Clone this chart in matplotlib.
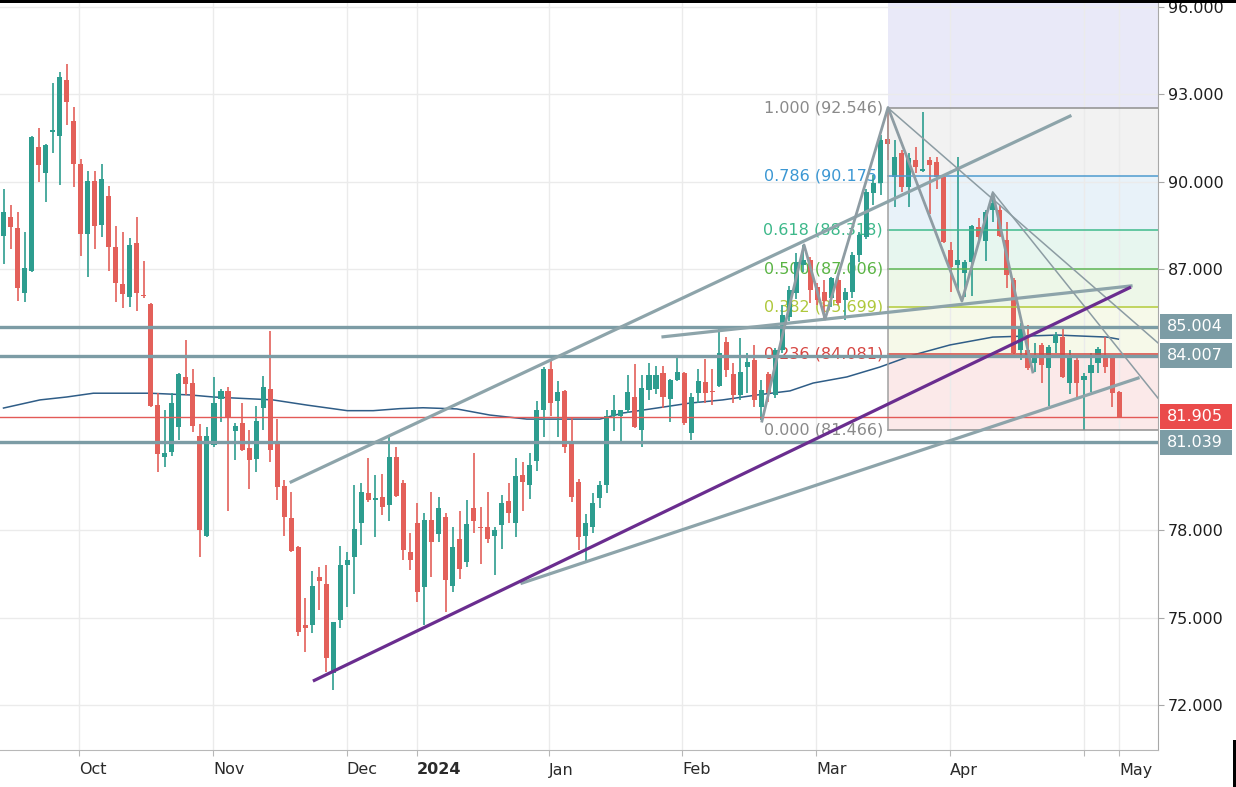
import numpy as np
import matplotlib.pyplot as plt
from matplotlib.patches import Rectangle
from matplotlib.transforms import blended_transform_factory

# ── Daily candles (bar index 0..159) ─────────────────────────────────────────
opens = [88.14, 88.79, 88.41, 86.18, 86.93, 91.20, 90.30, 91.71, 91.56, 93.49,
         92.08, 90.62, 88.18, 90.03, 88.50, 89.51, 87.76, 86.46, 86.02, 87.90,
         86.09, 85.79, 82.31, 80.54, 80.71, 81.57, 83.29, 83.06, 81.25, 77.81,
         80.94, 82.51, 82.81, 81.43, 81.71, 80.85, 80.45, 82.20, 82.85, 81.00,
         79.54, 78.42, 77.42, 74.75, 74.75, 76.41, 76.16, 73.11, 74.92, 76.81,
         77.10, 78.27, 79.28, 79.05, 79.14, 78.87, 80.54, 79.62, 77.27, 78.27,
         76.07, 78.36, 77.88, 78.47, 76.09, 77.69, 76.93, 78.76, 78.10, 78.11,
         77.81, 78.19, 79.02, 78.27, 79.91, 79.56, 80.40, 82.16, 83.57, 82.46,
         82.81, 81.00, 79.68, 77.81, 78.13, 79.10, 79.56, 81.93, 81.93, 82.14,
         82.60, 81.45, 82.83, 82.85, 83.43, 82.51, 83.17, 83.43, 81.36, 82.72,
         83.12, 82.81, 82.97, 84.49, 83.38, 82.66, 83.63, 83.86, 82.26, 83.38,
         82.66, 84.20, 85.35, 86.15, 87.13, 87.30, 86.38, 86.20, 86.00, 86.61,
         85.92, 86.21, 87.47, 88.10, 89.59, 89.94, 91.48, 90.16, 90.97, 89.82,
         90.74, 90.36, 90.74, 90.68, 90.16, 87.64, 87.13, 86.84, 87.24, 88.45,
         87.97, 89.02, 89.02, 87.99, 86.61, 84.20, 84.20, 83.75, 84.38, 83.58,
         84.43, 84.66, 83.06, 83.86, 83.17, 83.43, 83.75, 83.99, 83.92, 82.77]
highs = [89.76, 89.19, 88.94, 88.27, 91.56, 91.83, 91.28, 93.38, 93.78, 94.04,
         92.55, 90.76, 90.37, 90.37, 90.62, 89.84, 88.47, 88.25, 88.05, 88.79,
         87.28, 85.83, 82.72, 82.16, 82.74, 83.43, 84.55, 83.57, 81.66, 81.55,
         83.27, 82.85, 82.94, 81.68, 82.37, 81.45, 82.28, 83.31, 84.87, 81.82,
         79.73, 79.33, 77.46, 75.67, 76.62, 76.73, 76.81, 74.86, 77.46, 77.27,
         79.56, 79.64, 80.48, 79.91, 79.94, 81.28, 80.88, 79.73, 77.90, 78.96,
         78.59, 79.33, 79.14, 78.61, 78.11, 78.68, 79.05, 80.67, 78.82, 79.33,
         78.11, 79.22, 79.64, 80.48, 80.37, 80.67, 82.46, 83.63, 83.84, 83.15,
         82.83, 81.91, 79.76, 78.56, 79.30, 79.71, 82.14, 82.66, 82.16, 83.35,
         83.72, 83.35, 83.77, 83.66, 83.66, 83.20, 83.95, 83.46, 82.72, 83.57,
         83.88, 83.54, 84.95, 84.66, 83.77, 84.61, 84.09, 84.38, 83.17, 83.46,
         84.26, 85.75, 86.40, 87.55, 87.81, 87.41, 86.50, 86.60, 86.73, 86.73,
         86.33, 87.59, 88.27, 89.76, 90.22, 91.60, 92.546, 91.43, 91.08, 90.97,
         91.20, 92.40, 90.85, 90.85, 90.22, 87.93, 90.85, 87.30, 88.50, 88.73,
         89.02, 89.59, 89.19, 88.62, 86.67, 85.12, 85.06, 84.43, 84.43, 84.38,
         84.83, 84.95, 84.20, 83.92, 83.40, 84.09, 84.32, 84.66, 83.98, 82.81]
lows = [87.18, 87.67, 85.90, 85.84, 86.90, 89.99, 89.31, 90.97, 89.88, 91.94,
        89.80, 87.45, 86.73, 87.67, 88.08, 86.93, 85.87, 85.66, 85.70, 85.56,
        85.98, 82.26, 80.02, 80.19, 80.56, 81.11, 82.66, 81.40, 77.10, 77.76,
        80.88, 81.74, 78.68, 80.42, 80.74, 79.41, 80.02, 81.45, 80.37, 79.05,
        77.81, 77.27, 74.37, 73.83, 74.46, 75.26, 73.14, 72.51, 74.63, 75.38,
        75.81, 77.50, 78.99, 77.76, 78.53, 78.34, 79.16, 76.98, 76.64, 75.55,
        74.75, 76.41, 77.61, 75.21, 75.89, 76.32, 76.73, 77.92, 76.85, 77.56,
        76.47, 77.35, 78.27, 77.76, 78.68, 79.07, 80.06, 81.20, 81.94, 81.20,
        80.65, 78.99, 77.33, 76.89, 77.92, 78.76, 79.28, 81.43, 80.97, 82.05,
        81.51, 80.88, 82.49, 82.71, 82.20, 81.74, 83.15, 81.62, 81.11, 82.37,
        82.37, 82.31, 82.94, 83.29, 82.39, 82.49, 82.72, 82.26, 81.80, 82.43,
        82.54, 84.10, 85.20, 85.95, 86.90, 85.81, 85.75, 85.27, 85.70, 85.75,
        85.24, 85.98, 87.24, 88.04, 89.19, 89.53, 90.74, 89.13, 89.65, 89.13,
        90.28, 90.33, 88.90, 89.76, 87.87, 86.21, 86.27, 86.04, 86.06, 87.99,
        87.28, 88.62, 88.08, 86.33, 84.07, 83.86, 83.52, 83.46, 83.06, 82.28,
        84.09, 83.23, 82.71, 82.54, 81.45, 82.77, 83.40, 83.40, 82.26, 81.905]
closes = [88.94, 88.45, 86.33, 87.01, 91.52, 90.57, 91.25, 91.74, 93.58, 92.72,
          90.60, 88.18, 90.03, 88.48, 90.09, 87.76, 86.52, 86.12, 87.82, 86.18,
          86.06, 82.28, 80.62, 80.67, 82.37, 83.38, 83.02, 81.59, 78.02, 81.25,
          82.37, 82.80, 81.91, 81.59, 80.77, 80.42, 81.78, 82.94, 80.77, 79.48,
          78.47, 77.30, 74.52, 74.63, 76.09, 76.27, 73.60, 74.86, 76.81, 76.98,
          78.04, 79.33, 79.05, 79.09, 78.82, 80.54, 79.18, 77.33, 76.98, 75.89,
          78.36, 77.61, 78.76, 76.30, 77.42, 76.66, 78.22, 78.34, 78.07, 77.69,
          78.02, 78.93, 78.61, 79.87, 79.68, 80.25, 82.16, 83.57, 82.37, 82.77,
          80.88, 79.16, 77.78, 78.27, 78.93, 79.56, 81.93, 82.16, 82.14, 82.77,
          81.57, 82.89, 83.35, 83.35, 82.60, 83.17, 83.46, 81.68, 82.58, 83.15,
          82.72, 82.76, 84.11, 83.52, 82.66, 83.46, 83.80, 82.49, 82.83, 82.72,
          84.20, 85.41, 86.27, 87.24, 87.30, 86.27, 85.93, 85.90, 86.67, 85.81,
          86.21, 87.47, 88.16, 89.65, 89.94, 91.43, 91.28, 90.85, 89.82, 90.80,
          90.51, 90.42, 90.57, 90.16, 87.93, 87.07, 87.30, 87.24, 88.47, 88.08,
          88.96, 89.25, 88.13, 86.78, 84.09, 84.99, 83.58, 84.03, 83.69, 84.32,
          84.72, 83.29, 83.92, 83.06, 83.31, 83.69, 84.23, 83.63, 82.72, 81.905]

# ── Moving average, sampled along the curve ──────────────────────────────────
ma_idx = [0, 5.2, 9, 12.8, 20.9, 26.6, 29.9, 38.4, 43.3, 49, 52.7, 56.5,
          59.8, 64.6, 69.3, 74.6, 85, 88.3, 93.1, 97.8, 102.5, 107.4, 112.1,
          115.4, 120.2, 124.9, 129.6, 134.9, 141, 150.2, 157.3, 158.9]
ma_val = [82.21, 82.49, 82.59, 82.72, 82.72, 82.66, 82.59, 82.49, 82.31,
          82.12, 82.12, 82.19, 82.22, 82.18, 81.97, 81.83, 81.83, 82.04, 82.21,
          82.38, 82.49, 82.66, 82.80, 83.07, 83.28, 83.62, 84.03, 84.38, 84.65,
          84.72, 84.65, 84.58]

# ── Drawings ─────────────────────────────────────────────────────────────────
h_levels   = [85.004, 84.007, 81.039]
last_price = 81.905

purple_x, purple_y = [44.1, 160.7], [72.82, 86.37]
trend_lines = [                        # (x0, x1), (y0, y1)
    ([41.0, 152.0], [79.67, 92.25]),   # upper channel
    ([73.9, 161.7], [76.19, 83.24]),   # lower support
    ([94.0, 160.7], [84.66, 86.41]),   # flat resistance
]
thin_lines = [
    ([126.07, 164.55], [92.53, 84.45]),
    ([141.0, 164.55], [89.64, 82.55]),
]
zz_x = [108.1, 114.1, 117.1, 126.07, 136.6, 141.0, 146.7]
zz_y = [81.76, 87.82, 85.27, 92.546, 85.89, 89.60, 83.45]

# ── Fibonacci retracement ────────────────────────────────────────────────────
fib_x0    = 126.07
fib_ratio = [1.0, 0.786, 0.618, 0.5, 0.382, 0.236, 0.0]
fib_price = [92.546, 90.175, 88.318, 87.006, 85.699, 84.081, 81.466]
fib_line  = ["#8F8F8F", "#4E9BCF", "#3FBA8C", "#5DB653", "#B3CB3A", "#D9473F", "#8F8F8F"]
fib_text  = ["#8A8A8A", "#3B97D3", "#3DB88A", "#5AB444", "#AFC83C", "#D64541", "#8A8A8A"]
fib_fill  = ["#F2F2F2", "#E8F2F9", "#E7F6EF", "#EDF7E8", "#F6F9E9", "#FBE9E9"]
fib_top_fill = "#E9E9F8"

# ── Axes labels ──────────────────────────────────────────────────────────────
price_ticks = [72, 75, 78, 87, 90, 93, 96]
grid_prices = [72, 75, 78, 81, 84, 87, 90, 93, 96]
month_pos   = [10.76, 29.93, 48.92, 58.94, 77.75, 96.71, 115.81, 134.9, 154.0, 159.0]
month_lbl   = ["Oct", "Nov", "Dec", "2024", "Jan", "Feb", "Mar", "Apr", "", "May"]

UP, DN = "#2D9D8F", "#E3605A"
HCOL = "#7C9CA5"

# ── Figure ───────────────────────────────────────────────────────────────────
fig = plt.figure(figsize=(12.36, 7.87), dpi=100, facecolor="white")
ax = fig.add_axes([0, 37 / 787, 1158 / 1236, 747 / 787])
x_max = 164.55
ax.set_xlim(-0.5, x_max)
ax.set_ylim(70.45, 96.14)

for s in ("top", "left"):
    ax.spines[s].set_visible(False)
ax.spines["right"].set_color("#A8A8A8")
ax.spines["bottom"].set_color("#B8B8B8")

# grid
for g in grid_prices:
    ax.axhline(g, color="#EBEBEB", lw=1, zorder=0.6)
for m in month_pos:
    ax.axvline(m, color="#EBEBEB", lw=1, zorder=0.6)

# fib zones and levels
ax.fill_between([fib_x0, x_max], fib_price[0], 96.14, color=fib_top_fill, lw=0, zorder=0.5)
for k, fc in enumerate(fib_fill):
    ax.fill_between([fib_x0, x_max], fib_price[k + 1], fib_price[k], color=fc, lw=0, zorder=0.5)
for r, p, lc, tc in zip(fib_ratio, fib_price, fib_line, fib_text):
    ax.plot([fib_x0, x_max], [p, p], color=lc, lw=1.1, zorder=3.5)
    ax.text(fib_x0 - 0.7, p, f"{r:.3f} ({p:.3f})", ha="right", va="center",
            color=tc, fontsize=11.5, zorder=1.5)
ax.plot([fib_x0, fib_x0], [fib_price[-1], fib_price[0]], color="#A0A0A0", lw=1.1, zorder=3.5)

# moving average
ax.plot(ma_idx, ma_val, color="#2F5D87", lw=1.1, zorder=2)

# candles
o, h, l, c = map(np.array, (opens, highs, lows, closes))
xi = np.arange(len(o))
col = np.where(c >= o, UP, DN)
ax.vlines(xi, l, h, colors=col, lw=1.2, zorder=3)
ax.bar(xi, np.maximum(np.abs(c - o), 0.05), bottom=np.minimum(o, c), width=0.72,
       color=col, lw=0, zorder=3.1)

# horizontal levels and last price
for lv in h_levels:
    ax.axhline(lv, color=HCOL, lw=2.4, zorder=4)
ax.axhline(last_price, color="#E35A57", lw=1, zorder=4)

# trend lines
ax.plot(purple_x, purple_y, color="#6A2D8F", lw=2.3, zorder=4.2, solid_capstyle="butt")
for tx, ty in trend_lines:
    ax.plot(tx, ty, color="#8DA4AA", lw=2.3, zorder=4.1)
for tx, ty in thin_lines:
    ax.plot(tx, ty, color="#8C9CA3", lw=1.1, zorder=4.1)
ax.plot(zz_x, zz_y, color="#8E9CA3", lw=2.0, zorder=4.1)

# right price axis
ax.yaxis.tick_right()
ax.set_yticks(price_ticks, [f"{v:.3f}" for v in price_ticks])
ax.tick_params(axis="y", length=4, color="#A8A8A8", labelsize=11.5,
               labelcolor="#1E1E1E", pad=3)

tr = blended_transform_factory(ax.transAxes, ax.transData)
for lv, fc in [(85.004, HCOL), (84.007, HCOL), (last_price, "#EA4B4B"), (81.039, HCOL)]:
    ax.add_patch(Rectangle((1.0017, lv - 0.43), 0.0622, 0.86, transform=tr,
                           fc=fc, ec="none", clip_on=False, zorder=5))
    ax.text(1.0078, lv, f"{lv:.3f}", transform=tr, ha="left", va="center",
            color="white", fontsize=11.5, clip_on=False, zorder=6)

# bottom time axis
ax.set_xticks(month_pos, month_lbl)
ax.tick_params(axis="x", length=4, color="#B8B8B8", labelsize=11.5,
               labelcolor="#2A2A2A", pad=5)
for t in ax.get_xticklabels():
    t.set_horizontalalignment("left")
    if t.get_text() == "2024":
        t.set_fontweight("bold")

# screenshot frame edges
fig.patches.append(Rectangle((0, 1 - 3 / 787), 1, 3 / 787, transform=fig.transFigure,
                             fc="black", ec="none", zorder=10))
fig.patches.append(Rectangle((1233 / 1236, 0), 3 / 1236, 47 / 787, transform=fig.transFigure,
                             fc="black", ec="none", zorder=10))

fig.savefig("out.png", dpi=100, facecolor="white")
